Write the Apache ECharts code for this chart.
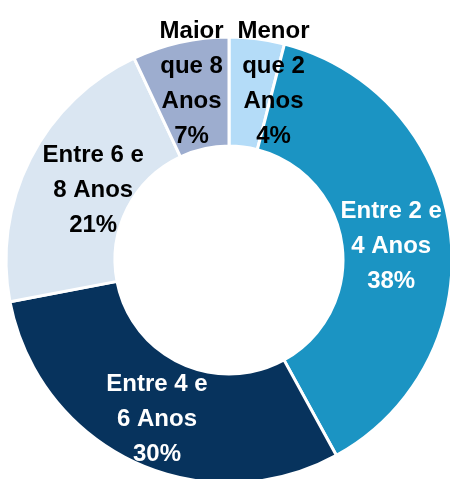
<!DOCTYPE html>
<html>
<head>
    <meta charset="utf-8" />
    <title>Idade</title>
    <script src="https://cdn.jsdelivr.net/npm/echarts@6/dist/echarts.min.js"></script>
    <style>
        html, body { margin: 0; padding: 0; background: #fff; }
        #main { width: 450px; height: 479px; }
    </style>
</head>
<body>
    <div id="main"></div>
    <script type="text/javascript">
        // categorias e valores (%)
        var categorias = ['Menor\nque 2\nAnos', 'Entre 2 e\n4 Anos', 'Entre 4 e\n6 Anos', 'Entre 6 e\n8 Anos', 'Maior\nque 8\nAnos'];
        var valores = [4, 38, 30, 21, 7];
        var cores = ['#b4dcf8', '#1b94c3', '#07335d', '#dae6f2', '#9dadcf'];
        var corTexto = ['#000', '#fff', '#fff', '#000', '#000'];
        // ajuste fino dos rotulos
        var deslocX = [23, -8, 1, 17, 0];
        var deslocY = [-6, 8, 4, 8, -9];

        var myChart = echarts.init(document.getElementById('main'));

        var dados = [];
        for (var i = 0; i < valores.length; i++) {
            dados.push({
                name: categorias[i],
                value: valores[i],
                itemStyle: { color: cores[i] },
                label: { color: corTexto[i] }
            });
        }

        var option = {
            animation: false,
            series: [{
                type: 'pie',
                center: [229, 260],
                radius: [114, 223],
                startAngle: 90,
                clockwise: true,
                avoidLabelOverlap: false,
                itemStyle: {
                    borderColor: '#fff',
                    borderWidth: 3
                },
                label: {
                    show: true,
                    position: 'inside',
                    formatter: '{b}\n{c}%',
                    fontFamily: '"Liberation Sans", Arial, sans-serif',
                    fontWeight: 'bold',
                    fontSize: 24,
                    lineHeight: 35
                },
                labelLine: { show: false },
                labelLayout: function (params) {
                    return {
                        dx: deslocX[params.dataIndex],
                        dy: deslocY[params.dataIndex]
                    };
                },
                data: dados
            }]
        };

        myChart.setOption(option);
    </script>
</body>
</html>
